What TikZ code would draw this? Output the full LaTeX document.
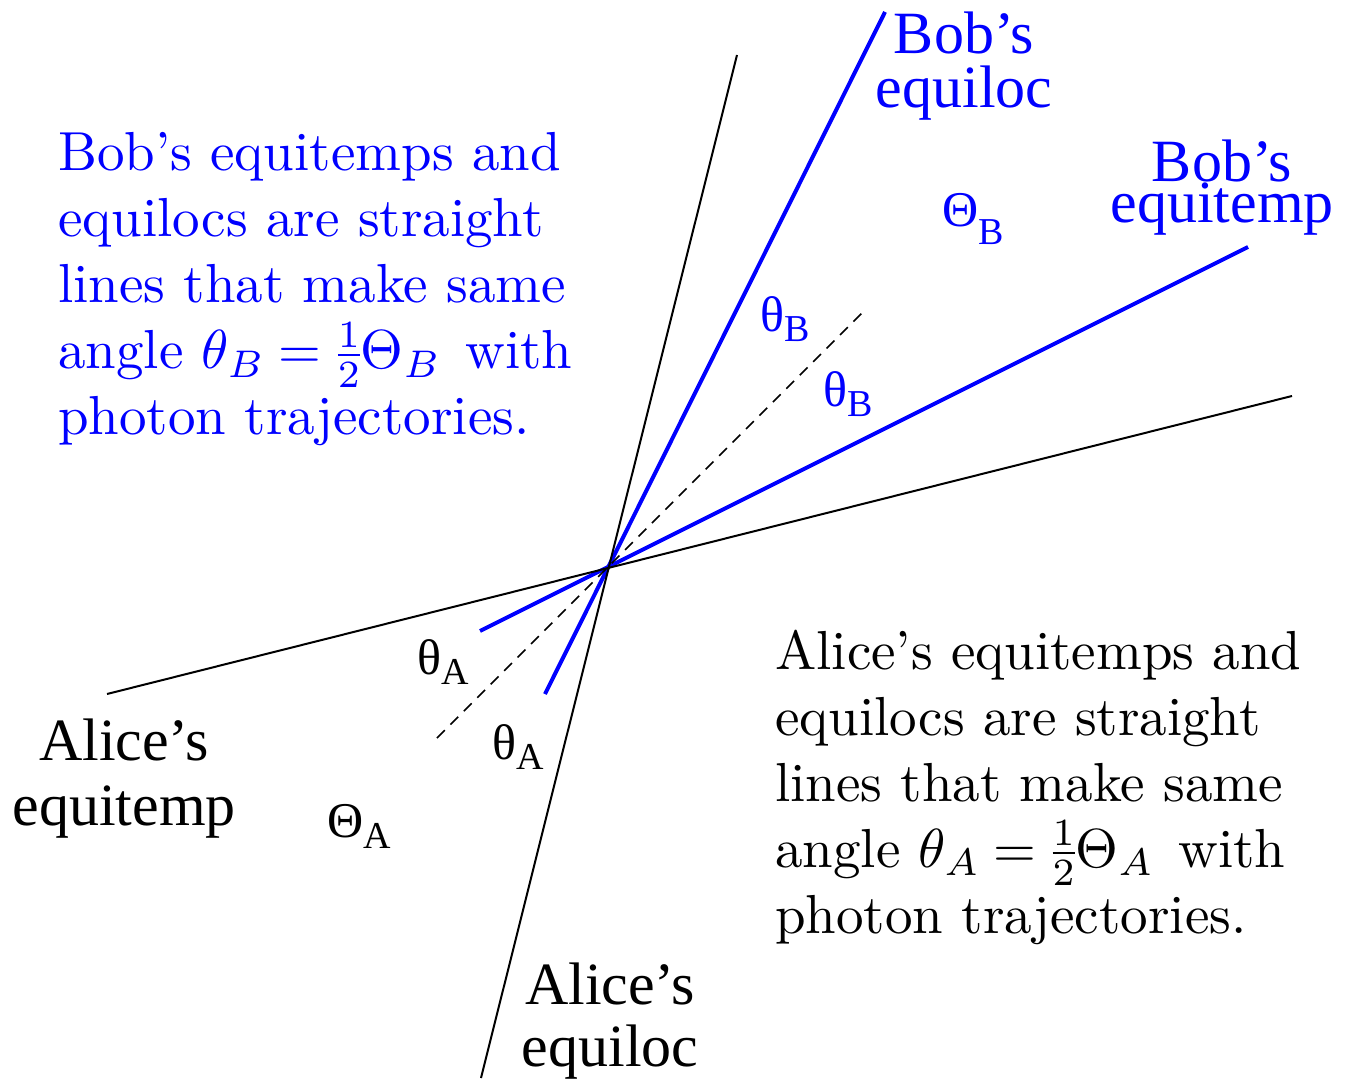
\documentclass[tikz,border=0pt]{standalone}
\usepackage{fontspec}
\DeclareFontShape{OML}{cmm}{m}{it}{<-33>cmmi5<33-45>cmmi7<45->cmmi10}{\skewchar\font127 }
\DeclareFontShape{OT1}{cmr}{m}{n}{<-33>cmr5<33-45>cmr7<45->cmr10}{}
\DeclareFontShape{OMS}{cmsy}{m}{n}{<-33>cmsy5<33-45>cmsy7<45->cmsy10}{\skewchar\font48 }
\DeclareFontShape{OMX}{cmex}{m}{n}{<->cmex10}{}
\DeclareMathSizes{55}{55}{38.5}{27.5}
\newfontfamily\tms{Liberation Serif}
\newfontfamily\lmten{lmroman10-regular.otf}
\definecolor{bobblue}{RGB}{0,0,255}
\newcommand\gsub[2][10pt]{\raisebox{-#1}{\fontsize{38}{38}\selectfont #2}}
\newcommand\twolines[3]{\parbox[t]{400pt}{\centering\fontsize{60}{#1}\selectfont #2\\#3}}
\begin{document}
\begin{tikzpicture}[x=1pt,y=-1pt,
  thinline/.style={line width=2pt, black},
  bobline/.style={line width=4pt, bobblue},
  midline/.style={line width=1.6pt, black, dash pattern=on 11pt off 8pt},
  para/.style={anchor=base west, inner sep=0pt, font=\lmten\fontsize{55}{66}\selectfont},
  lab/.style={anchor=base, inner sep=0pt, font=\tms\fontsize{60}{60}\selectfont},
  glab/.style={anchor=base west, inner sep=0pt, font=\tms\fontsize{50}{50}\selectfont}]
\useasboundingbox (0,0) rectangle (1346,1083);
% end points
\coordinate (O) at (608,568);
\coordinate (aqlLo) at (481,1078);
\coordinate (aqlHi) at (737,55);
\coordinate (atmLo) at (107,694);
\coordinate (atmHi) at (1292,396);
\coordinate (bqlLo) at (545,694);
\coordinate (bqlHi) at (885,12);
\coordinate (btmLo) at (480,631);
\coordinate (btmHi) at (1248,247);
\coordinate (dLo) at (437,738);
\coordinate (dHi) at (863,312);
% Bob's lines
\draw[bobline] (bqlLo) -- (bqlHi);
\draw[bobline] (btmLo) -- (btmHi);
% Alice's lines
\draw[thinline] (aqlLo) -- (aqlHi);
\draw[thinline] (atmLo) -- (atmHi);
% photon trajectory
\draw[midline] (dLo) -- (dHi);
% paragraphs
\node[para, text=bobblue] (bobtext) at (58,171) {\parbox[t]{700pt}{\raggedright
Bob’s equitemps and\\
equilocs are straight\\
lines that make same\\
angle $\theta_B=\frac{1}{2}\Theta_B$\kern8pt{} with\\
photon trajectories.}};
\node[para] (alicetext) at (775,669) {\parbox[t]{700pt}{\raggedright
Alice’s equitemps and\\
equilocs are straight\\
lines that make same\\
angle $\theta_A=\frac{1}{2}\Theta_A$\kern8pt{} with\\
photon trajectories.}};
% line labels
\node[lab, text=bobblue] (bqllab) at (964,54) {\twolines{54}{Bob’s}{equiloc}};
\node[lab, text=bobblue] (btmlab) at (1222,182) {\twolines{41}{Bob’s}{equitemp}};
\node[lab] (atmlab) at (124,760) {\twolines{65}{Alice’s}{equitemp}};
\node[lab] (aqllab) at (610,1004) {\twolines{62}{Alice’s}{equiloc}};
% angle labels
\node[glab, text=bobblue] (ThB) at (942,227) {Θ\gsub[18pt]{B}};
\node[glab, text=bobblue] (thB1) at (760,331) {θ\gsub{B}};
\node[glab, text=bobblue] (thB2) at (823,406) {θ\gsub{B}};
\node[glab] (thA1) at (417,674) {θ\gsub{A}};
\node[glab] (thA2) at (492,759) {θ\gsub{A}};
\node[glab] (ThA) at (327,837) {Θ\gsub[11pt]{A}};
\end{tikzpicture}
\end{document}
